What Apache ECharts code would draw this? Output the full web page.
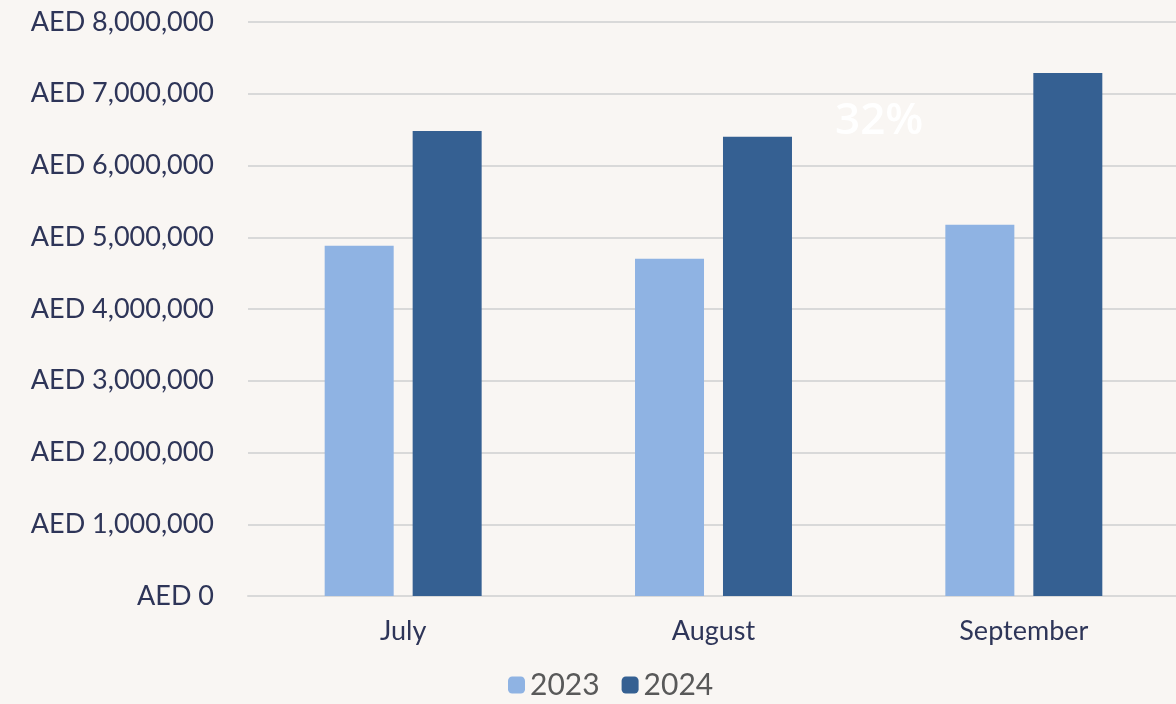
<!DOCTYPE html>
<html><head><meta charset="utf-8">
<script src="https://cdn.jsdelivr.net/npm/echarts@6/dist/echarts.min.js"></script>
<style>html,body{margin:0;padding:0;background:#f9f6f3;overflow:hidden;width:1176px;height:704px;}#c{width:1180px;height:704px;}</style>
</head><body><div id="c"></div>
<script>
const categories = ['July', 'August', 'September'];
const seriesNames = ['2023', '2024'];
const values2023 = [4880000, 4700000, 5175000];
const values2024 = [6480000, 6400000, 7290000];
const overlayText = '32%';

const chart = echarts.init(document.getElementById('c'));
const font = 'Lato, "Open Sans", sans-serif';
chart.setOption({
  backgroundColor: '#f9f6f3',
  animation: false,
  grid: {left: 248, right: 1, top: 22, bottom: 108, containLabel: false},
  legend: {
    data: seriesNames, bottom: -1, left: 503, itemWidth: 17, itemHeight: 17, itemGap: 22,
    textStyle: {color: '#595959', fontSize: 30, fontFamily: font}
  },
  xAxis: {
    type: 'category', data: categories,
    axisLine: {lineStyle: {color: '#d9d9d9', width: 2}},
    axisTick: {show: false},
    axisLabel: {color: '#2e3558', fontSize: 27, fontFamily: font, margin: 22}
  },
  yAxis: {
    type: 'value', min: 0, max: 8000000, interval: 1000000,
    axisLine: {show: false}, axisTick: {show: false},
    splitLine: {lineStyle: {color: '#d9d9d9', width: 2}},
    axisLabel: {
      color: '#2e3558', fontSize: 27, fontFamily: font, margin: 34,
      formatter: v => 'AED ' + v.toLocaleString('en-US')
    }
  },
  series: [
    {name: seriesNames[0], type: 'bar', data: values2023, barWidth: 69, barGap: '27.5%', itemStyle: {color: '#8fb3e3'}, z: 3},
    {name: seriesNames[1], type: 'bar', data: values2024, barWidth: 69, itemStyle: {color: '#356092'}, z: 3}
  ],
  graphic: [
    {type: 'text', left: 835, top: 99, z: 1, style: {text: overlayText, fill: '#ffffff', font: '600 44px "Open Sans"'}}
  ]
});
</script></body></html>
